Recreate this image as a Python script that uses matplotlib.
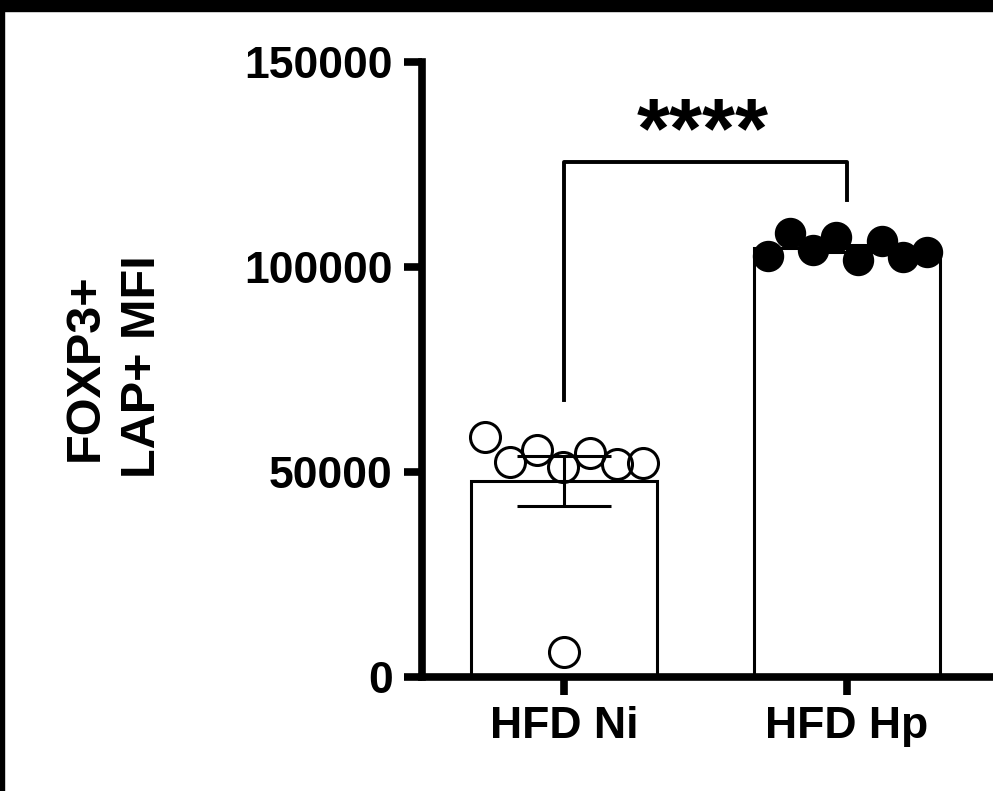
import numpy as np
import matplotlib.pyplot as plt
from matplotlib.patches import Rectangle

# datos
grupos = ['HFD Ni', 'HFD Hp']
hfd_ni = [58610, 52510, 55370, 51300, 54560, 51950, 52120, 6170]
hfd_hp = [102680, 108220, 104150, 107240, 101710, 106420, 102510, 103730]
yticks = [0, 50000, 100000, 150000]
ylabel = 'FOXP3+\nLAP+ MFI'
signif = '****'

# desplazamiento horizontal de cada punto (scatter tipo GraphPad)
off_ni = [-0.28, -0.19, -0.095, -0.004, 0.092, 0.187, 0.28, 0.0]
off_hp = [-0.279, -0.201, -0.12, -0.039, 0.039, 0.124, 0.198, 0.283]

plt.rcParams['font.family'] = ['Liberation Sans', 'DejaVu Sans']
plt.rcParams['font.weight'] = 'bold'

W, H = 993, 791
fig = plt.figure(figsize=(W / 100, H / 100), dpi=100)
fig.patch.set_facecolor('white')
# marco negro arriba y a la izquierda
fig.patches.append(Rectangle((0, 1 - 11 / H), 1, 11 / H, transform=fig.transFigure, color='k', zorder=0))
fig.patches.append(Rectangle((0, 0), 4 / W, 1, transform=fig.transFigure, color='k', zorder=0))

ax = fig.add_axes([422 / W, 114 / H, 581 / W, 615 / H])
ax.set_xlim(-0.502, -0.502 + 581 / 283)
ax.set_ylim(0, 150000)

datos = [hfd_ni, hfd_hp]
offs = [off_ni, off_hp]
medias = [np.mean(d) for d in datos]
sem = [np.std(d, ddof=1) / np.sqrt(len(d)) for d in datos]

ax.bar([0, 1], medias, width=0.657, color='white', edgecolor='k', linewidth=2.2, zorder=1)
ax.errorbar([0, 1], medias, yerr=sem, fmt='none', ecolor='k', elinewidth=2.2,
            capsize=34, capthick=2.2, zorder=2, clip_on=False)

ax.plot(np.array(off_ni), hfd_ni, 'o', ms=21.6, mfc='none', mec='k', mew=2.2, zorder=3, clip_on=False)
ax.plot(1 + np.array(off_hp), hfd_hp, 'o', ms=21.6, mfc='k', mec='k', mew=1.0, zorder=3, clip_on=False)

# barra de significancia
ax.plot([0, 0, 1, 1], [67500, 125600, 125600, 116300], color='k', lw=2.8, clip_on=False)
ax.text(0.49, 126700, signif, ha='center', va='baseline', fontsize=61, fontweight='bold')

for s in ['top', 'right']:
    ax.spines[s].set_visible(False)
for s in ['left', 'bottom']:
    ax.spines[s].set_linewidth(5.5)
ax.set_yticks(yticks)
ax.set_yticklabels([str(t) for t in yticks])
ax.set_xticks([0, 1])
ax.set_xticklabels(grupos)
ax.tick_params(axis='both', width=5.5, length=13, labelsize=32)
ax.tick_params(axis='y', pad=8)
ax.tick_params(axis='x', pad=8)

fig.text(114 / W, 1 - 367 / H, ylabel, rotation=90, ha='center', va='center',
         multialignment='center', fontsize=35, fontweight='bold', linespacing=1.35)

plt.savefig('out.png', dpi=100)
